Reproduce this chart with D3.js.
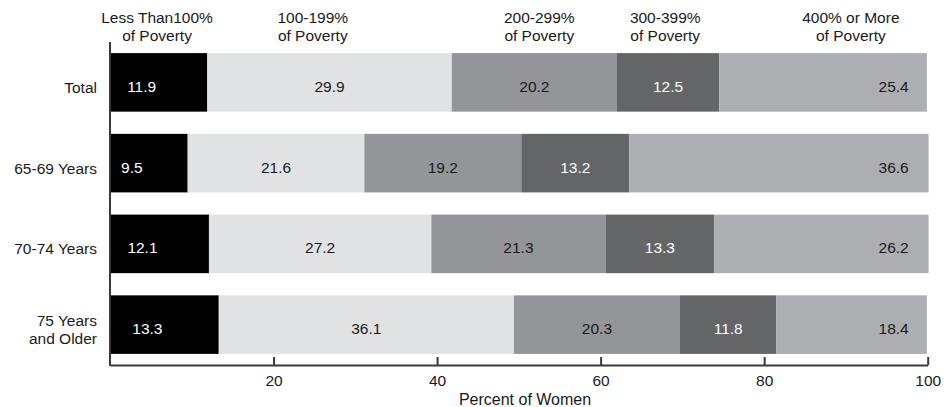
<!DOCTYPE html>
<html>
<head>
<meta charset="utf-8">
<script src="https://cdn.jsdelivr.net/npm/d3@7"></script>
<style>
  html, body { margin: 0; padding: 0; background: #fff; }
  svg { display: block; font-family: "Liberation Sans", Arial, sans-serif; }
</style>
</head>
<body>
<svg id="chart" width="950" height="407"></svg>
<script>
// ---- data ----
const categories = ["Total", "65-69 Years", "70-74 Years", "75 Years\nand Older"];
const seriesNames = ["Less Than100%\nof Poverty", "100-199%\nof Poverty", "200-299%\nof Poverty", "300-399%\nof Poverty", "400% or More\nof Poverty"];
const below100  = [11.9, 9.5, 12.1, 13.3];
const pov100199 = [29.9, 21.6, 27.2, 36.1];
const pov200299 = [20.2, 19.2, 21.3, 20.3];
const pov300399 = [12.5, 13.2, 13.3, 11.8];
const pov400up  = [25.4, 36.6, 26.2, 18.4];
const xTicks = [20, 40, 60, 80, 100];
const xTitle = "Percent of Women";

// ---- layout / styles ----
const colors = ["#000000", "#e1e2e4", "#939598", "#646567", "#adaeb1"];
const textColors = ["#ffffff", "#1a1a1a", "#1a1a1a", "#ffffff", "#1a1a1a"];
const headerAt = [5.75, 24.8, 52.5, 67.9, 90.6]; // header centres, in percent units
const fs = 15.5;

const series = [below100, pov100199, pov200299, pov300399, pov400up];
const svg = d3.select("#chart");

const x = d3.scaleLinear().domain([0, 100]).range([110, 927.7]);
const y = d3.scaleBand().domain(categories).range([42, 365]).paddingInner(0.275).paddingOuter(0.1375);

const rows = categories.map((c, i) => {
  let acc = 0;
  return series.map((s, k) => {
    const seg = { cat: c, k, v: s[i], x0: acc, x1: acc + s[i] };
    acc += s[i];
    return seg;
  });
});
const segs = rows.flat();

// bars
svg.append("g").selectAll("rect").data(segs).join("rect")
  .attr("x", d => x(d.x0))
  .attr("y", d => y(d.cat))
  .attr("width", d => x(d.x1) - x(d.x0))
  .attr("height", y.bandwidth())
  .attr("fill", d => colors[d.k]);

// value labels
svg.append("g").selectAll("text").data(segs).join("text")
  .attr("x", d => {
    if (d.k === 0) return (x(d.x0) + x(d.x1)) / 2 - 17;
    if (d.k === 4) return x(100) - 19;
    return (x(d.x0) + x(d.x1)) / 2;
  })
  .attr("y", d => y(d.cat) + y.bandwidth() / 2 + 4)
  .attr("dy", "0.35em")
  .attr("text-anchor", d => d.k === 4 ? "end" : "middle")
  .attr("font-size", fs)
  .attr("fill", d => textColors[d.k])
  .text(d => d.v.toFixed(1));

// category labels
const catG = svg.append("g");
categories.forEach(c => {
  const lines = c.split("\n");
  const cy = y(c) + y.bandwidth() / 2 + 5;
  const t = catG.append("text")
    .attr("text-anchor", "end")
    .attr("font-size", fs)
    .attr("fill", "#1a1a1a");
  lines.forEach((ln, j) => {
    t.append("tspan")
      .attr("x", 97)
      .attr("y", cy + (j - (lines.length - 1) / 2) * 17.5)
      .attr("dy", "0.35em")
      .text(ln);
  });
});

// series headers
const hG = svg.append("g");
seriesNames.forEach((n, k) => {
  const t = hG.append("text")
    .attr("text-anchor", "middle")
    .attr("font-size", fs)
    .attr("fill", "#1a1a1a");
  n.split("\n").forEach((ln, j) => {
    t.append("tspan").attr("x", x(headerAt[k])).attr("y", 22.5 + j * 18).text(ln);
  });
});

// x axis
const axis = d3.axisBottom(x).tickValues(xTicks).tickSizeInner(-8).tickSizeOuter(0).tickPadding(10);
const ax = svg.append("g").attr("transform", "translate(0,365)").call(axis);
ax.select(".domain").attr("stroke", "#3a3a3a").attr("stroke-width", 2);
ax.selectAll(".tick line").attr("stroke", "#3a3a3a").attr("stroke-width", 2);
ax.selectAll(".tick text").attr("font-size", fs).attr("fill", "#1a1a1a")
  .attr("font-family", "Liberation Sans, Arial, sans-serif");

// y axis line
svg.append("line")
  .attr("x1", x(0)).attr("x2", x(0))
  .attr("y1", 42).attr("y2", 366)
  .attr("stroke", "#3a3a3a").attr("stroke-width", 2);

// axis title
svg.append("text")
  .attr("x", 525).attr("y", 405)
  .attr("text-anchor", "middle")
  .attr("font-size", 16)
  .attr("fill", "#1a1a1a")
  .text(xTitle);
</script>
</body>
</html>
